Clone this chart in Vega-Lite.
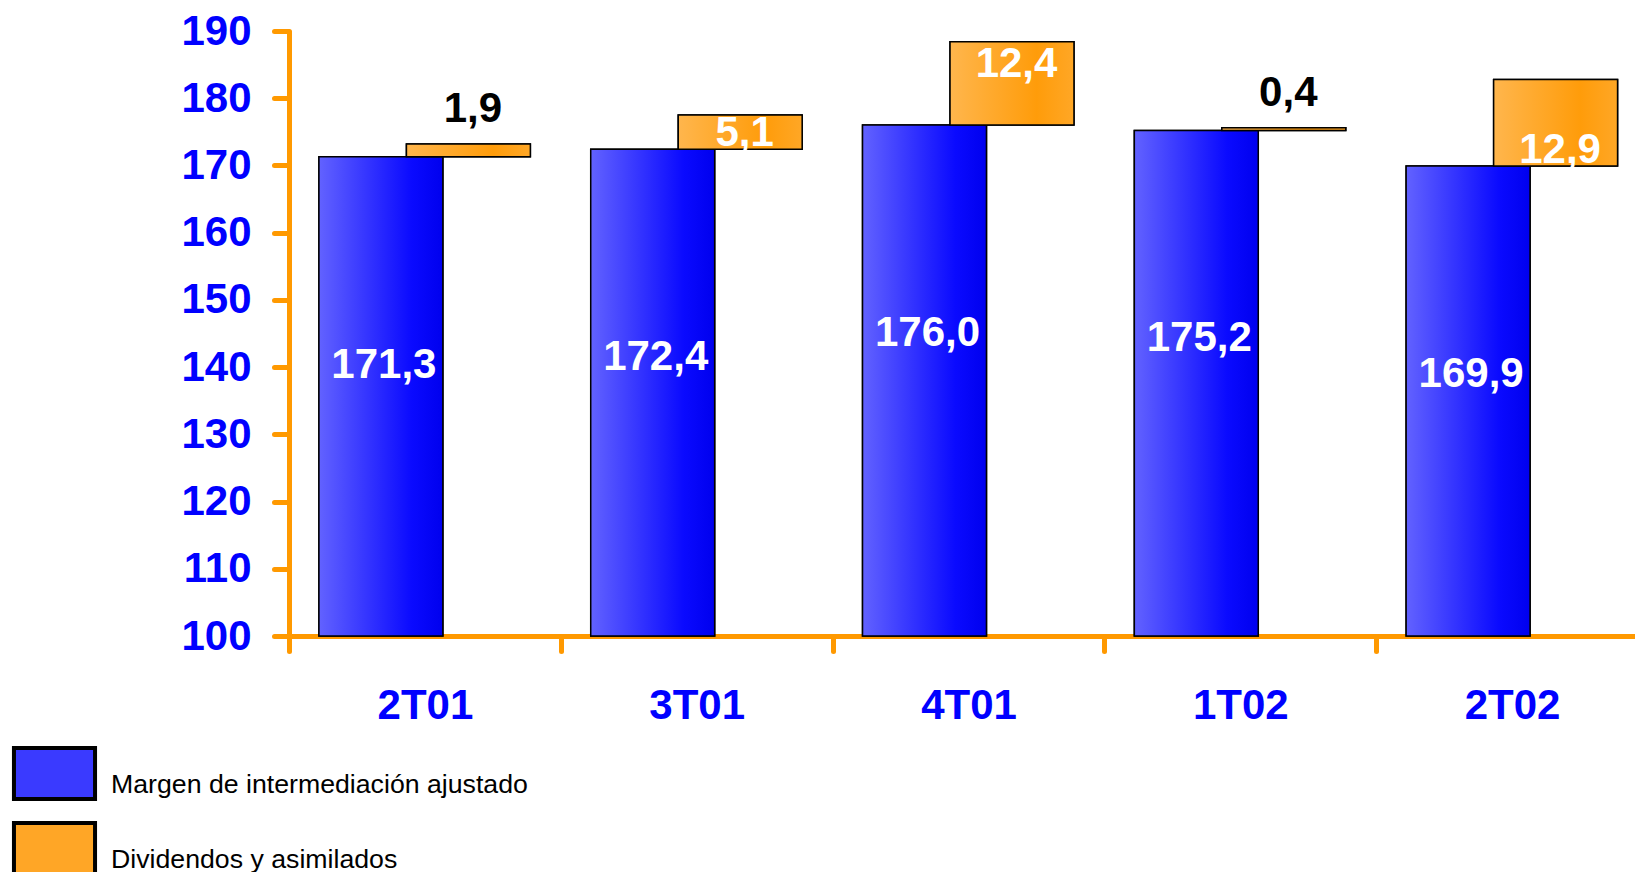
{
  "$schema": "https://vega.github.io/schema/vega-lite/v6.json",
  "width": 1346,
  "height": 605,
  "autosize": {"type": "none"},
  "padding": {"left": 289, "top": 31, "right": 0, "bottom": 236},
  "background": "white",
  "config": {
    "locale": {"number": {"decimal": ",", "thousands": ".", "grouping": [3], "currency": ["", " €"]}},
    "view": {"stroke": null},
    "font": "Liberation Sans",
    "axisY": {
      "title": null,
      "labelFont": "Liberation Sans",
      "labelFontSize": 42,
      "labelFontWeight": "bold",
      "labelColor": "#0000FF",
      "labelPadding": 23,
      "domainColor": "#FF9900",
      "domainWidth": 5,
      "tickColor": "#FF9900",
      "tickWidth": 5,
      "tickCap": "round",
      "tickSize": 15,
      "grid": false
    }
  },
  "data": {
    "values": [
      {"q": "2T01", "serie": "Margen de intermediación ajustado", "val": 171.3},
      {"q": "2T01", "serie": "Dividendos y asimilados", "val": 1.9},
      {"q": "3T01", "serie": "Margen de intermediación ajustado", "val": 172.4},
      {"q": "3T01", "serie": "Dividendos y asimilados", "val": 5.1},
      {"q": "4T01", "serie": "Margen de intermediación ajustado", "val": 176.0},
      {"q": "4T01", "serie": "Dividendos y asimilados", "val": 12.4},
      {"q": "1T02", "serie": "Margen de intermediación ajustado", "val": 175.2},
      {"q": "1T02", "serie": "Dividendos y asimilados", "val": 0.4},
      {"q": "2T02", "serie": "Margen de intermediación ajustado", "val": 169.9},
      {"q": "2T02", "serie": "Dividendos y asimilados", "val": 12.9}
    ]
  },
  "transform": [
    {"stack": "val", "groupby": ["q"], "sort": [{"field": "serie", "order": "descending"}], "as": ["v0", "v1"]}
  ],
  "encoding": {
    "x": {
      "field": "q",
      "type": "nominal",
      "sort": ["2T01", "3T01", "4T01", "1T02", "2T02"],
      "scale": {"range": [0, 1359], "paddingInner": 0, "paddingOuter": 0},
      "axis": {
        "title": null,
        "labelAngle": 0,
        "labelFont": "Liberation Sans",
        "labelFontSize": 42,
        "labelFontWeight": "bold",
        "labelColor": "#0000FF",
        "labelPadding": 34,
        "labelBaseline": "top",
        "domainColor": "#FF9900",
        "domainWidth": 5,
        "domainCap": "round",
        "tickColor": "#FF9900",
        "tickWidth": 5,
        "tickCap": "round",
        "tickSize": 15,
        "tickBand": "extent",
        "grid": false
      }
    }
  },
  "layer": [
    {
      "transform": [{"filter": "datum.serie === 'Margen de intermediación ajustado'"}],
      "mark": {"type": "bar", "width": {"band": 0.456}, "xOffset": -44, "stroke": "black", "strokeWidth": 1.5},
      "encoding": {
        "y": {
          "field": "v1",
          "type": "quantitative",
          "scale": {"domain": [100, 190], "nice": false, "zero": false},
          "axis": {"title": null, "values": [100, 110, 120, 130, 140, 150, 160, 170, 180, 190], "format": "d"}
        },
        "y2": {"datum": 100},
        "color": {
          "field": "serie",
          "type": "nominal",
          "scale": {
            "domain": ["Margen de intermediación ajustado", "Dividendos y asimilados"],
            "range": ["#3a3aff", "#ffa626"]
          },
          "legend": {
            "orient": "none",
            "legendX": -262,
            "legendY": 715,
            "title": null,
            "direction": "vertical",
            "padding": 0,
            "symbolType": "M-1.59,-1H1.59V1H-1.59Z",
            "symbolSize": 2601,
            "symbolStrokeColor": "black",
            "symbolStrokeWidth": 4,
            "symbolOpacity": 1,
            "labelFont": "Liberation Sans",
            "labelFontSize": 26.7,
            "labelColor": "black",
            "labelOffset": 29,
            "labelBaseline": "middle",
            "labelLimit": 0,
            "rowPadding": 8,
            "encode": {"labels": {"update": {"dy": {"value": 11}}}}
          }
        }
      }
    },
    {
      "transform": [{"filter": "datum.serie === 'Dividendos y asimilados'"}],
      "mark": {"type": "bar", "width": {"band": 0.456}, "xOffset": 43.5, "stroke": "black", "strokeWidth": 1.5},
      "encoding": {
        "y": {"field": "v0", "type": "quantitative", "scale": {"domain": [100, 190], "nice": false, "zero": false}, "axis": {"title": null, "values": [100, 110, 120, 130, 140, 150, 160, 170, 180, 190], "format": "d"}},
        "y2": {"field": "v1"},
        "color": {"field": "serie", "type": "nominal"}
      }
    },
    {
      "transform": [{"filter": "datum.serie === 'Margen de intermediación ajustado'"}],
      "mark": {
        "type": "bar", "width": {"band": 0.456}, "xOffset": -44, "stroke": "black", "strokeWidth": 1.5,
        "color": {"gradient": "linear", "x1": 0, "y1": 0, "x2": 1, "y2": 0, "stops": [{"offset": 0, "color": "#6262ff"}, {"offset": 0.75, "color": "#0a0aff"}, {"offset": 1, "color": "#0000ee"}]}
      },
      "encoding": {
        "y": {"field": "v1", "type": "quantitative", "scale": {"domain": [100, 190], "nice": false, "zero": false}, "axis": {"title": null, "values": [100, 110, 120, 130, 140, 150, 160, 170, 180, 190], "format": "d"}},
        "y2": {"datum": 100}
      }
    },
    {
      "transform": [{"filter": "datum.serie === 'Dividendos y asimilados'"}],
      "mark": {
        "type": "bar", "width": {"band": 0.456}, "xOffset": 43.5, "stroke": "black", "strokeWidth": 1.5,
        "color": {"gradient": "linear", "x1": 0, "y1": 0, "x2": 1, "y2": 0, "stops": [{"offset": 0, "color": "#ffb64d"}, {"offset": 0.7, "color": "#ff9c0a"}, {"offset": 1, "color": "#ffa726"}]}
      },
      "encoding": {
        "y": {"field": "v0", "type": "quantitative", "scale": {"domain": [100, 190], "nice": false, "zero": false}, "axis": {"title": null, "values": [100, 110, 120, 130, 140, 150, 160, 170, 180, 190], "format": "d"}},
        "y2": {"field": "v1"}
      }
    },
    {
      "transform": [{"filter": "datum.serie === 'Margen de intermediación ajustado'"}],
      "mark": {"type": "text", "xOffset": -41, "dy": 221, "baseline": "alphabetic", "align": "center", "font": "Liberation Sans", "fontSize": 42, "fontWeight": "bold", "color": "white"},
      "encoding": {
        "y": {"field": "v1", "type": "quantitative", "scale": {"domain": [100, 190], "nice": false, "zero": false}, "axis": {"title": null, "values": [100, 110, 120, 130, 140, 150, 160, 170, 180, 190], "format": "d"}},
        "text": {"field": "val", "type": "quantitative", "format": ".1f"}
      }
    },
    {
      "transform": [{"filter": "datum.serie === 'Dividendos y asimilados' && datum.val < 3"}],
      "mark": {"type": "text", "xOffset": 48, "dy": -21.5, "baseline": "alphabetic", "align": "center", "font": "Liberation Sans", "fontSize": 42, "fontWeight": "bold", "color": "black"},
      "encoding": {
        "y": {"field": "v1", "type": "quantitative", "scale": {"domain": [100, 190], "nice": false, "zero": false}, "axis": {"title": null, "values": [100, 110, 120, 130, 140, 150, 160, 170, 180, 190], "format": "d"}},
        "text": {"field": "val", "type": "quantitative", "format": ".1f"}
      }
    },
    {
      "transform": [{"filter": "datum.serie === 'Dividendos y asimilados' && datum.val >= 3 && datum.q !== '4T01'"}],
      "mark": {"type": "text", "xOffset": 48, "dy": -3.5, "baseline": "alphabetic", "align": "center", "font": "Liberation Sans", "fontSize": 42, "fontWeight": "bold", "color": "white"},
      "encoding": {
        "y": {"field": "v0", "type": "quantitative", "scale": {"domain": [100, 190], "nice": false, "zero": false}, "axis": {"title": null, "values": [100, 110, 120, 130, 140, 150, 160, 170, 180, 190], "format": "d"}},
        "text": {"field": "val", "type": "quantitative", "format": ".1f"}
      }
    },
    {
      "transform": [{"filter": "datum.serie === 'Dividendos y asimilados' && datum.q === '4T01'"}],
      "mark": {"type": "text", "xOffset": 48, "dy": 35, "baseline": "alphabetic", "align": "center", "font": "Liberation Sans", "fontSize": 42, "fontWeight": "bold", "color": "white"},
      "encoding": {
        "y": {"field": "v1", "type": "quantitative", "scale": {"domain": [100, 190], "nice": false, "zero": false}, "axis": {"title": null, "values": [100, 110, 120, 130, 140, 150, 160, 170, 180, 190], "format": "d"}},
        "text": {"field": "val", "type": "quantitative", "format": ".1f"}
      }
    }
  ]
}
